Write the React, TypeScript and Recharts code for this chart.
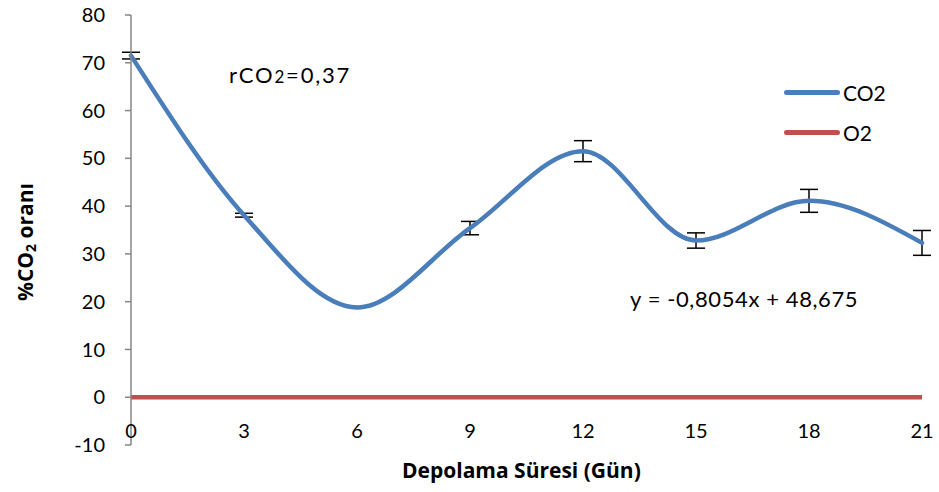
import {
  LineChart,
  Line,
  XAxis,
  YAxis,
  ErrorBar,
  ReferenceLine,
} from "recharts";

const days = [0, 3, 6, 9, 12, 15, 18, 21];
const co2 = [71.5, 38.1, 18.8, 35.4, 51.5, 32.8, 41.1, 32.3];
const co2Err = [0.7, 0.4, 0, 1.4, 2.2, 1.6, 2.4, 2.6];
const o2 = [0, 0, 0, 0, 0, 0, 0, 0];
const yTicks = [-10, 0, 10, 20, 30, 40, 50, 60, 70, 80];

const data = days.map((d, i) => ({
  day: d,
  co2: co2[i],
  co2Err: co2Err[i],
  o2: o2[i],
}));

const blue = "#4A7EBB";
const red = "#C0504D";
const axisGray = "#868686";
const font = "Lato, 'Open Sans', sans-serif";
const titleFont = "'Open Sans', Lato, sans-serif";

const XTick = (props: any) => {
  const { x, y, payload } = props;
  return (
    <text x={x} y={y - 23} textAnchor="middle" dominantBaseline="central" fontSize={20} fontFamily={font} fill="#000">
      {payload.value}
    </text>
  );
};

const YTitle = () => (
  <text
    transform="translate(25,242) rotate(-90)"
    textAnchor="middle"
    dominantBaseline="central"
    fontSize={21}
    fontWeight="bold"
    fontFamily={titleFont}
    fill="#000"
  >
    %CO<tspan fontSize={14} dy={5}>2</tspan>
    <tspan dy={-5}> oranı</tspan>
  </text>
);

const series = [
  { name: "CO2", color: blue },
  { name: "O2", color: red },
];

export default function App() {
  return (
    <div style={{ position: "absolute", left: 0, top: 0, width: 939, height: 492, background: "#fff" }}>
      <LineChart
        width={939}
        height={492}
        data={data}
        margin={{ top: 15, right: 17, bottom: 17, left: 61 }}
      >
        <XAxis
          dataKey="day"
          type="number"
          domain={[0, 21]}
          ticks={days}
          axisLine={false}
          tickLine={false}
          height={30}
          tick={<XTick />}
          interval={0}
        />
        <YAxis
          type="number"
          domain={[-10, 80]}
          ticks={yTicks}
          width={70}
          axisLine={{ stroke: axisGray, strokeWidth: 1.5 }}
          tickLine={{ stroke: axisGray, strokeWidth: 1.5 }}
          tickSize={6}
          tickMargin={20}
          tick={{ fontSize: 20, fontFamily: font, fill: "#000" }}
          interval={0}
          label={<YTitle />}
        />
        <ReferenceLine y={0} stroke={axisGray} strokeWidth={1.5} />
        <Line
          type="monotone"
          dataKey="o2"
          name="O2"
          stroke={red}
          strokeWidth={4.5}
          dot={false}
          isAnimationActive={false}
        />
        <Line
          type="monotone"
          dataKey="co2"
          name="CO2"
          stroke={blue}
          strokeWidth={4.5}
          strokeLinecap="round"
          dot={false}
          isAnimationActive={false}
        >
          <ErrorBar dataKey="co2Err" width={9} stroke="#000" strokeWidth={1.5} direction="y" />
        </Line>
      </LineChart>
      {/* legend */}
      <div style={{ position: "absolute", left: 784, top: 72, fontFamily: font, fontSize: 21 }}>
        {series.map((s) => (
          <div key={s.name} style={{ display: "flex", alignItems: "center", height: 40 }}>
            <div style={{ width: 56, height: 5, borderRadius: 3, background: s.color, marginRight: 3 }} />
            <span>{s.name}</span>
          </div>
        ))}
      </div>
      <div style={{ position: "absolute", left: 229, top: 61, fontFamily: font, fontSize: 22, letterSpacing: 1.8 }}>
        rCO<span style={{ fontSize: 17 }}>2</span>=0,37
      </div>
      <div style={{ position: "absolute", left: 630, top: 285, fontFamily: font, fontSize: 22, letterSpacing: 0.6 }}>
        y = -0,8054x + 48,675
      </div>
      <div
        style={{
          position: "absolute",
          left: 402,
          top: 456,
          whiteSpace: "nowrap",
          fontFamily: titleFont,
          fontSize: 21,
          fontWeight: "bold",
        }}
      >
        Depolama Süresi (Gün)
      </div>
    </div>
  );
}
